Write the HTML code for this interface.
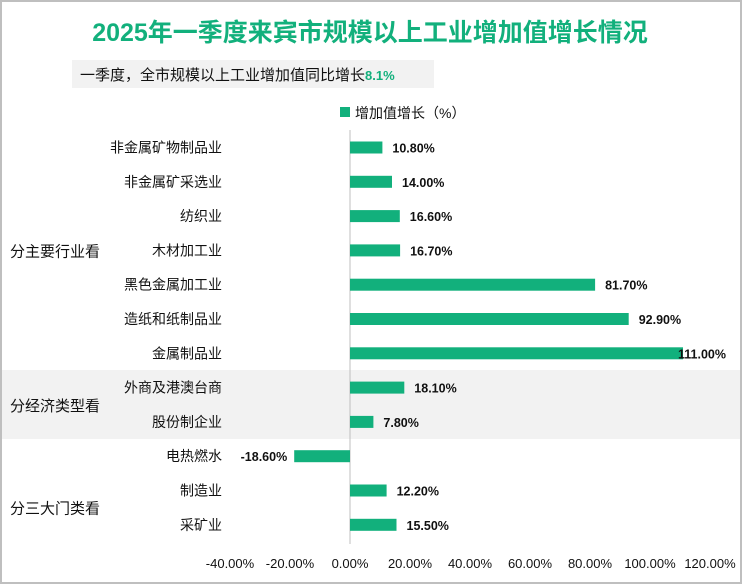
<!DOCTYPE html>
<html><head><meta charset="utf-8">
<style>
body{margin:0;background:#fff;}
#wrap{position:relative;width:742px;height:584px;overflow:hidden;font-family:"Liberation Sans","Noto Sans CJK SC",sans-serif;}
</style></head>
<body>
<div id="wrap">
<svg id="svg" width="742" height="584" xmlns="http://www.w3.org/2000/svg">
<rect x="1" y="1" width="740" height="582" fill="#fff" stroke="#bfbfbf" stroke-width="2"/>
<text x="370" y="41" text-anchor="middle" font-size="25" font-weight="bold" fill="#12b07c" font-family="Liberation Sans,Noto Sans CJK SC,sans-serif">2025年一季度来宾市规模以上工业增加值增长情况</text>
<rect x="72" y="60" width="362" height="28" fill="#f2f2f2"/>
<text x="80" y="80" font-size="15" fill="#111" font-family="Liberation Sans,Noto Sans CJK SC,sans-serif">一季度，全市规模以上工业增加值同比增长<tspan fill="#12b07c" font-size="13" font-weight="bold">8.1%</tspan></text>
<rect x="340" y="107" width="10" height="10" fill="#12b07c"/>
<text x="355" y="118" font-size="14" fill="#111" font-family="Liberation Sans,Noto Sans CJK SC,sans-serif">增加值增长（%）</text>
<rect x="2" y="370" width="738" height="69" fill="#f2f2f2"/>
<g id="plot"></g>
</svg>
</div>
<script>
const categories=["非金属矿物制品业","非金属矿采选业","纺织业","木材加工业","黑色金属加工业","造纸和纸制品业","金属制品业","外商及港澳台商","股份制企业","电热燃水","制造业","采矿业"];
const values=[10.8,14.0,16.6,16.7,81.7,92.9,111.0,18.1,7.8,-18.6,12.2,15.5];
const tickValues=[-40,-20,0,20,40,60,80,100,120];
const groupLabels=["分主要行业看","分经济类型看","分三大门类看"];
const groupRowIndex=[3,7.5,10.5];
const NS="http://www.w3.org/2000/svg";
const g=document.getElementById('plot');
const x0=350,pxPer=3.0,rowTop=147.5,rowStep=34.3;
function xs(v){return x0+v*pxPer;}
function ys(i){return rowTop+i*rowStep;}
function el(t,a){const e=document.createElementNS(NS,t);for(const k in a)e.setAttribute(k,a[k]);g.appendChild(e);return e;}
const font="Liberation Sans,Noto Sans CJK SC,sans-serif";
const ax=el('line',{x1:x0,x2:x0,y1:130,y2:544,stroke:'#bfbfbf','stroke-width':1});


categories.forEach((c,i)=>{
 const v=values[i],y=ys(i);
 const r=el('rect',{x:Math.min(xs(0),xs(v)),y:y-6,width:Math.abs(xs(v)-xs(0)),height:12,fill:'#12b07c'});
 
 
 const l=el('text',{x:222,y:y+5,'text-anchor':'end','font-size':14,fill:'#111','font-family':font});
 l.textContent=c;
 
 
 const lx=Math.min(xs(v)+10,678);
 const vl=el('text',{x:v>=0?lx:xs(v)-7,y:y+5,'text-anchor':v>=0?'start':'end','font-size':12.5,'font-weight':'bold',fill:'#111','font-family':font});
 vl.textContent=v.toFixed(2)+'%';
 
 
});
groupLabels.forEach((t,i)=>{
 const e=el('text',{x:10,y:ys(groupRowIndex[i])+6,'font-size':15,fill:'#111','font-family':font});
 e.textContent=t;
 
 
});
tickValues.forEach(v=>{
 const e=el('text',{x:xs(v),y:568,'text-anchor':'middle','font-size':13,fill:'#111','font-family':font});
 e.textContent=v.toFixed(2)+'%';
 
 
});
</script>
</body></html>
